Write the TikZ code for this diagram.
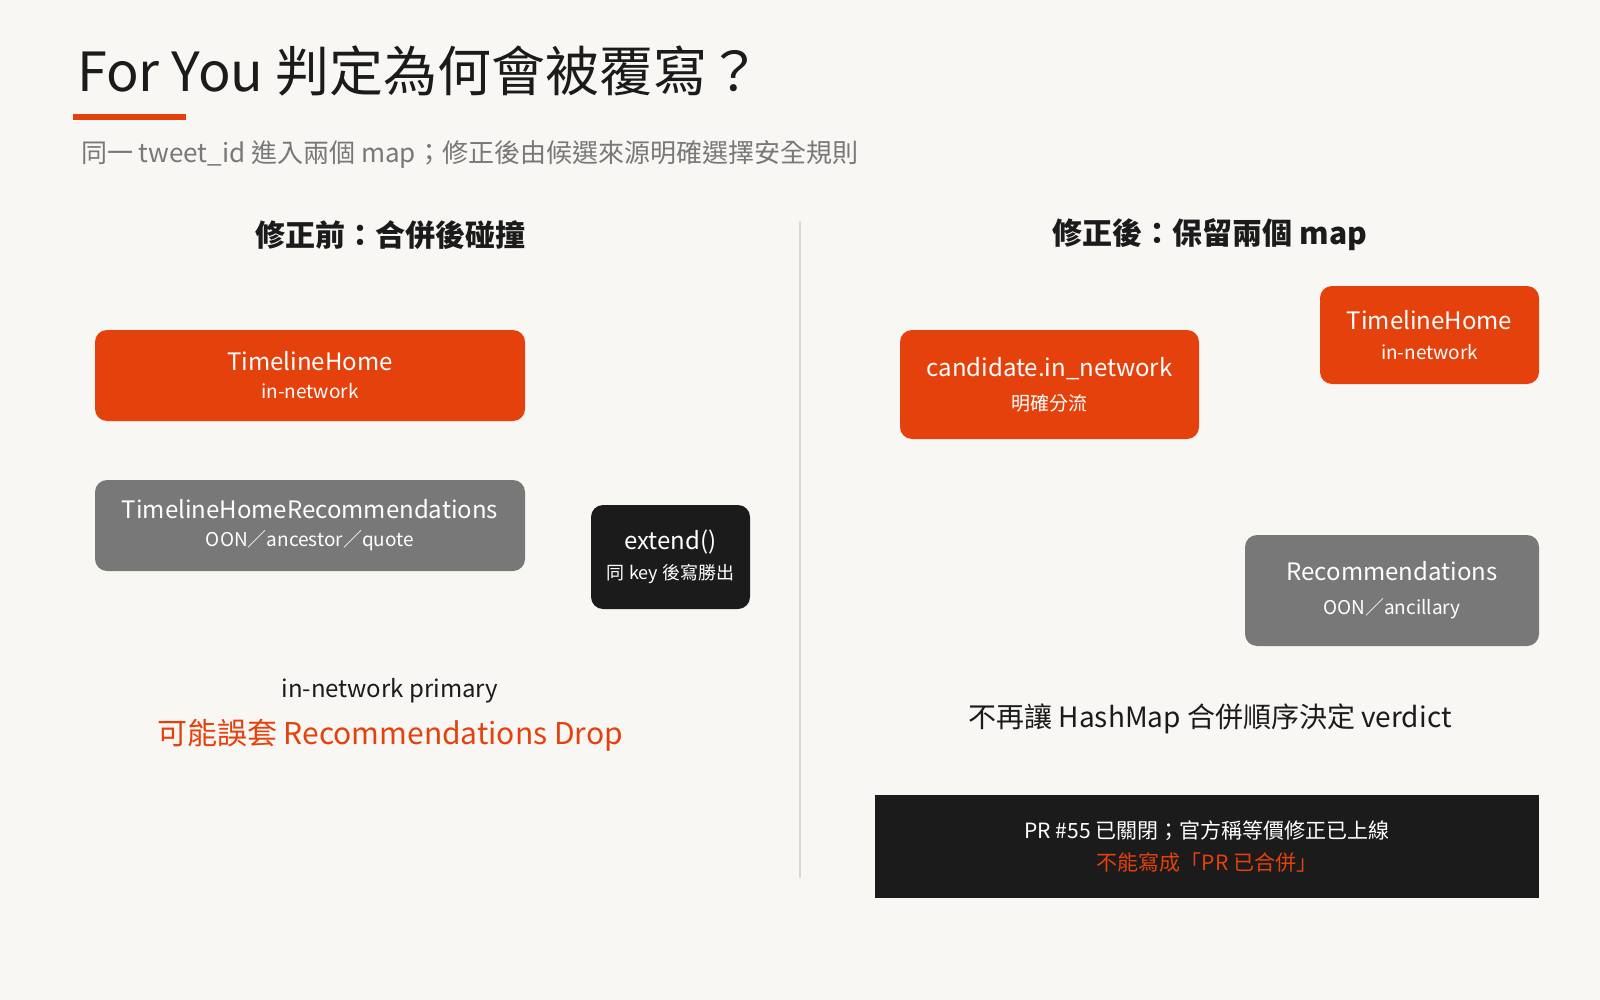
\documentclass[tikz,border=0pt]{standalone}
\usepackage{fontspec}
\setmainfont{Noto Sans CJK TC}
\usetikzlibrary{arrows.meta,backgrounds}
\definecolor{org}{HTML}{E5410D}
\definecolor{gry}{HTML}{787878}
\definecolor{blk}{HTML}{1B1B1B}
\definecolor{bg}{HTML}{F9F7F4}
\begin{document}
\begin{tikzpicture}[x=0.5pt,y=-0.5pt,
 box/.style={rounded corners=6pt,inner sep=0pt,text=white,align=center},
 arr/.style={org,line width=4pt,-{Triangle[length=30pt,width=30pt]}},
 big/.style={font=\fontsize{12}{15}\selectfont},
 sm/.style={font=\fontsize{9.5}{12}\selectfont}]
\fill[bg] (0,0) rectangle (1600,1000);
\useasboundingbox (0,0) rectangle (1600,1000);
\node[anchor=base west,font=\fontsize{27}{30}\selectfont,text=blk] (title) at (70,92) {For You 判定為何會被覆寫？};
\draw[org,line width=3pt] (73,117) -- (186,117);
\node[anchor=base west,font=\fontsize{13}{16}\selectfont,text=gry] (sub) at (74,163) {同一 tweet\_id 進入兩個 map；修正後由候選來源明確選擇安全規則};
\node[font=\fontsize{15}{18}\selectfont\bfseries,text=blk] (lh) at (390,235) {修正前：合併後碰撞};
\node[font=\fontsize{15}{18}\selectfont\bfseries,text=blk] (rh) at (1210,235) {修正後：保留兩個 map};
\draw[black!15,line width=1pt] (800,221) -- (800,878);
% left
\node[box,fill=org,minimum width=215pt,minimum height=45.5pt] (tl) at (310,375.5) {{\fontsize{12}{15}\selectfont TimelineHome}\\[2pt]{\fontsize{9.5}{12}\selectfont in-network}};
\node[box,fill=gry,minimum width=215pt,minimum height=45.5pt] (tr) at (310,525.5) {{\fontsize{12}{15}\selectfont TimelineHomeRecommendations}\\[2pt]{\fontsize{9.5}{12}\selectfont OON／ancestor／quote}};
\node[box,fill=blk,minimum width=79.5pt,minimum height=52pt] (ex) at (670.5,557) {{\fontsize{12}{15}\selectfont extend()}\\[3pt]{\fontsize{9}{12}\selectfont 同 key 後寫勝出}};
\begin{scope}[on background layer]
\fill[bg] (0,0) rectangle (1600,1000);
\draw[arr] (525,375) -- (658,510);
\draw[arr] (525,526) -- (635,505);
\end{scope}
\node[font=\fontsize{12}{15}\selectfont,text=blk] (t1) at (390,691) {in-network primary};
\node[font=\fontsize{15}{18}\selectfont,text=org] (t2) at (390,735) {可能誤套 Recommendations Drop};
% right
\node[box,fill=org,minimum width=149.5pt,minimum height=54.5pt] (cn) at (1049.5,384.5) {{\fontsize{12}{15}\selectfont candidate.in\_network}\\[5pt]{\fontsize{9.5}{12}\selectfont 明確分流}};
\node[box,fill=org,minimum width=109.5pt,minimum height=49pt] (th) at (1429.5,335) {{\fontsize{12}{15}\selectfont TimelineHome}\\[3pt]{\fontsize{9.5}{12}\selectfont in-network}};
\node[box,fill=gry,minimum width=147pt,minimum height=55.5pt] (rc) at (1392,590.5) {{\fontsize{12}{15}\selectfont Recommendations}\\[5pt]{\fontsize{9.5}{12}\selectfont OON／ancillary}};
\begin{scope}[on background layer]
\draw[arr] (1199,364) -- (1321,323);
\draw[arr] (1202,405) -- (1326,536);
\end{scope}
\node[font=\fontsize{14}{17}\selectfont,text=blk] (t3) at (1210,719) {不再讓 HashMap 合併順序決定 verdict};
\node[fill=blk,minimum width=332pt,minimum height=51.5pt,inner sep=0pt,align=center] (pr) at (1207,846.5) {{\fontsize{10.5}{13}\selectfont\color{white} PR \#55 已關閉；官方稱等價修正已上線}\\[4pt]{\fontsize{10.5}{13}\selectfont\color{org} 不能寫成「PR 已合併」}};
\end{tikzpicture}
\end{document}
